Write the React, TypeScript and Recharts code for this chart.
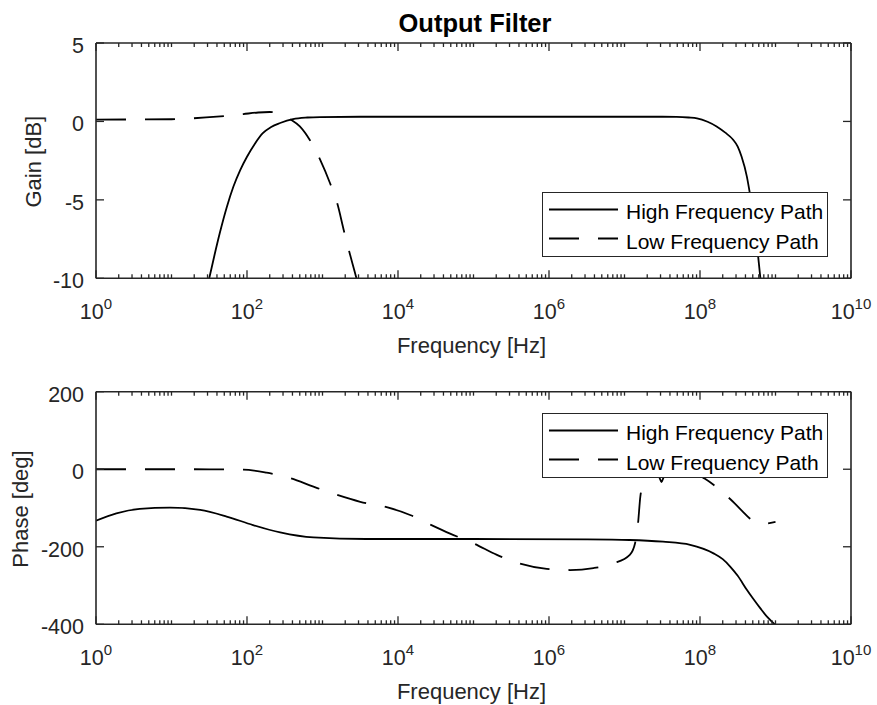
import React from 'react';
import { LineChart, Line, XAxis, YAxis, Legend } from 'recharts';

const FONT = '"Liberation Sans", Arial, Helvetica, sans-serif';
const AXIS = '#262626';
const DASH = '30 19';
const CHART_W = 877;
const LEFT_W = 96;
const RIGHT_W = 26;

// Labelled decades on the frequency axis and their exponents
const majorFreqs = [1e0, 1e2, 1e4, 1e6, 1e8, 1e10];
const majorExponents = ['0', '2', '4', '6', '8', '10'];

// Minor log ticks: 2..9 in every decade plus the unlabelled odd decades
const minorFreqs: number[] = [];
for (let k = 0; k < 10; k++) {
  for (let m = 1; m <= 9; m++) {
    if (m === 1 && k % 2 === 0) continue;
    minorFreqs.push(m * Math.pow(10, k));
  }
}
const freqTicks = [...majorFreqs, ...minorFreqs].sort((a, b) => a - b);

const gainTicks = [-10, -5, 0, 5];
const gainTickLabels = ['-10', '-5', '0', '5'];
const phaseTicks = [-400, -200, 0, 200];
const phaseTickLabels = ['-400', '-200', '0', '200'];

const seriesNames = ['High Frequency Path', 'Low Frequency Path'];

// [frequency Hz, gain dB]
const hfGain: [number, number][] = [
  [10, -20], [20, -14], [31.6, -10], [37.2, -8.5], [43.7, -7.1], [53.7, -5.5],
  [66.1, -4.15], [81.3, -3.1], [100, -2.25], [126, -1.45], [162, -0.75],
  [209, -0.35], [275, -0.1], [407, 0.15], [631, 0.25], [933, 0.28], [3162, 0.3],
  [1e5, 0.3], [1e7, 0.3], [3.16e7, 0.3], [4.9e7, 0.29], [7.08e7, 0.25],
  [9.12e7, 0.2], [1.26e8, -0.02], [1.66e8, -0.32], [2.14e8, -0.7], [2.75e8, -1.17],
  [3.16e8, -1.6], [3.55e8, -2.24], [4.17e8, -3.5], [4.57e8, -4.57], [5.25e8, -6.5],
  [5.89e8, -8.6], [6.31e8, -10], [7.94e8, -14], [1e9, -18],
];
const lfGain: [number, number][] = [
  [1, 0.12], [10, 0.14], [19.5, 0.2], [39.8, 0.3], [89.1, 0.47], [141, 0.57],
  [200, 0.6], [282, 0.45], [372, 0.15], [501, -0.32], [676, -1.17], [933, -2.45],
  [1259, -3.94], [1585, -5.3], [1905, -6.9], [2291, -8.4], [2818, -10],
  [3981, -13], [6310, -17], [1e4, -21],
];

// [frequency Hz, phase deg]
const hfPhase: [number, number][] = [
  [1, -133], [1.86, -114], [3.8, -102.5], [9.55, -99], [24, -105], [53.7, -122],
  [120, -144], [275, -163], [759, -176], [3802, -180], [1e5, -180], [3.16e6, -181],
  [1.17e7, -182.5], [3.24e7, -187], [7.41e7, -195], [1.51e8, -217], [2e8, -232],
  [2.51e8, -251], [3.16e8, -275], [4.17e8, -311], [5.01e8, -333], [6.31e8, -359],
  [7.94e8, -383], [1e9, -402],
];
const lfPhase: [number, number][] = [
  [1, 0], [10, 0], [31.6, -0.2], [89, -1], [182, -9], [372, -23], [759, -45],
  [1549, -66], [3162, -84], [7079, -98], [14454, -118], [26303, -142],
  [48978, -166], [1e5, -191], [204174, -221], [407380, -243], [933254, -257],
  [1.905e6, -260], [3.89e6, -255], [7.08e6, -243], [1.175e7, -221], [1.38e7, -191],
  [1.51e7, -140], [1.62e7, -71], [1.78e7, -36], [2.0e7, -24], [2.29e7, -15],
  [2.63e7, -12], [2.88e7, -20], [3.09e7, -33], [3.31e7, -20], [3.8e7, -10],
  [5.62e7, -6], [8.91e7, -12], [1.15e8, -24], [1.51e8, -40], [2.09e8, -63],
  [2.88e8, -88], [3.63e8, -108], [4.57e8, -127], [5.62e8, -137], [6.92e8, -141],
  [8.32e8, -139], [1e9, -136],
];

const toRows = (pts: [number, number][]) => pts.map(([f, v]) => ({ f, v }));

const majorIndex = (v: number) =>
  majorFreqs.findIndex((f) => Math.abs(Math.log10(f) - Math.log10(v)) < 1e-6);

// Bottom-axis tick: inward mark on the bottom edge, a matching mark on the
// top edge of the box, and the 10^n label for labelled decades.
function FreqTick(props: any) {
  const { x, y, payload, plotH } = props;
  const idx = majorIndex(payload.value);
  const len = idx >= 0 ? 8 : 4;
  const yTop = y - plotH;
  return (
    <g>
      <line x1={x} x2={x} y1={y} y2={y - len} stroke={AXIS} strokeWidth={1.3} />
      <line x1={x} x2={x} y1={yTop} y2={yTop + len} stroke={AXIS} strokeWidth={1.3} />
      {idx >= 0 && (
        <text x={x} y={y + 41} textAnchor="middle" fontFamily={FONT} fontSize={21.5} fill={AXIS}>
          <tspan>10</tspan>
          <tspan dy={-10} fontSize={15}>{majorExponents[idx]}</tspan>
        </text>
      )}
    </g>
  );
}

function ValueTick(props: any) {
  const { x, y, payload, right, ticks, labels } = props;
  const i = ticks.indexOf(payload.value);
  return (
    <g>
      <line x1={x} x2={right ? x - 8 : x + 8} y1={y} y2={y} stroke={AXIS} strokeWidth={1.3} />
      {!right && (
        <text x={x - 12} y={y + 10} textAnchor="end" fontFamily={FONT} fontSize={21.5} fill={AXIS}>
          {labels[i]}
        </text>
      )}
    </g>
  );
}

function LegendBox() {
  return (
    <svg width={286} height={65} style={{ display: 'block' }}>
      <rect x={0.5} y={0.5} width={285} height={64} fill="#fff" stroke={AXIS} strokeWidth={1} />
      {seriesNames.map((name, i) => (
        <g key={name}>
          <line
            x1={7}
            x2={76}
            y1={17.5 + i * 29}
            y2={17.5 + i * 29}
            stroke="#000"
            strokeWidth={1.8}
            strokeDasharray={i === 1 ? DASH : undefined}
          />
          <text x={84} y={26.5 + i * 30} fontFamily={FONT} fontSize={21} fill="#000">
            {name}
          </text>
        </g>
      ))}
    </svg>
  );
}

type PanelProps = {
  height: number;
  topSpace: number;
  bottomSpace: number;
  domain: [number, number];
  ticks: number[];
  labels: string[];
  yLabel: string;
  yLabelX: number;
  title?: string;
  legendTop: number;
  hf: [number, number][];
  lf: [number, number][];
};

function Panel(p: PanelProps) {
  const axisLine = { stroke: AXIS, strokeWidth: 1.6 };
  const plotH = p.height - p.topSpace - p.bottomSpace;
  return (
    <LineChart width={CHART_W} height={p.height} margin={{ top: 0, right: 0, bottom: 0, left: 0 }}>
      <XAxis
        xAxisId="xb"
        dataKey="f"
        type="number"
        scale="log"
        domain={[1, 1e10]}
        allowDataOverflow
        ticks={freqTicks}
        interval={0}
        orientation="bottom"
        height={p.bottomSpace}
        tickSize={0}
        tickMargin={0}
        tickLine={false}
        axisLine={axisLine}
        tick={(t: any) => <FreqTick {...t} plotH={plotH} />}
        label={{
          content: ({ viewBox }: any) => (
            <text
              x={viewBox.x + viewBox.width / 2 - 2}
              y={viewBox.y + 75}
              textAnchor="middle"
              fontFamily={FONT}
              fontSize={22}
              fill={AXIS}
            >
              Frequency [Hz]
            </text>
          ),
        }}
      />
      <XAxis
        xAxisId="xt"
        dataKey="f"
        type="number"
        scale="log"
        domain={[1, 1e10]}
        allowDataOverflow
        orientation="top"
        height={p.topSpace}
        tick={false}
        tickLine={false}
        axisLine={axisLine}
        label={
          p.title
            ? {
                content: ({ viewBox }: any) => (
                  <text
                    x={viewBox.x + viewBox.width / 2 + 1.5}
                    y={viewBox.y + 32}
                    textAnchor="middle"
                    fontFamily={FONT}
                    fontSize={25.5}
                    fontWeight="bold"
                    fill="#000"
                  >
                    {p.title}
                  </text>
                ),
              }
            : undefined
        }
      />
      <YAxis
        yAxisId="yl"
        type="number"
        domain={p.domain}
        allowDataOverflow
        ticks={p.ticks}
        interval={0}
        orientation="left"
        width={LEFT_W}
        tickSize={0}
        tickMargin={0}
        tickLine={false}
        axisLine={axisLine}
        tick={(t: any) => <ValueTick {...t} ticks={p.ticks} labels={p.labels} />}
        label={{
          content: ({ viewBox }: any) => {
            const cx = viewBox.x + p.yLabelX;
            const cy = viewBox.y + viewBox.height / 2 + 1;
            return (
              <text
                x={cx}
                y={cy}
                transform={`rotate(-90 ${cx} ${cy})`}
                textAnchor="middle"
                fontFamily={FONT}
                fontSize={22}
                fill={AXIS}
              >
                {p.yLabel}
              </text>
            );
          },
        }}
      />
      <YAxis
        yAxisId="yr"
        type="number"
        domain={p.domain}
        allowDataOverflow
        ticks={p.ticks}
        interval={0}
        orientation="right"
        width={RIGHT_W}
        tickSize={0}
        tickMargin={0}
        tickLine={false}
        axisLine={axisLine}
        tick={(t: any) => <ValueTick {...t} right ticks={p.ticks} labels={p.labels} />}
      />
      <Line
        xAxisId="xb"
        yAxisId="yl"
        data={toRows(p.hf)}
        dataKey="v"
        name={seriesNames[0]}
        type="monotone"
        stroke="#000"
        strokeWidth={1.8}
        dot={false}
        activeDot={false}
        isAnimationActive={false}
      />
      <Line
        xAxisId="xb"
        yAxisId="yl"
        data={toRows(p.lf)}
        dataKey="v"
        name={seriesNames[1]}
        type="monotone"
        stroke="#000"
        strokeWidth={1.8}
        strokeDasharray={DASH}
        dot={false}
        activeDot={false}
        isAnimationActive={false}
      />
      <Legend
        layout="vertical"
        align="center"
        verticalAlign="middle"
        content={() => <LegendBox />}
        wrapperStyle={{ left: 542, top: p.legendTop, width: 286, height: 65, lineHeight: 0 }}
      />
    </LineChart>
  );
}

export default function App() {
  return (
    <div style={{ position: 'absolute', left: 0, top: 0, width: CHART_W, height: 705, background: '#fff' }}>
      <div style={{ position: 'absolute', left: 0, top: 0 }}>
        <Panel
          height={360}
          topSpace={43}
          bottomSpace={81.7}
          domain={[-10, 5]}
          ticks={gainTicks}
          labels={gainTickLabels}
          yLabel="Gain [dB]"
          yLabelX={41}
          title="Output Filter"
          legendTop={192}
          hf={hfGain}
          lf={lfGain}
        />
      </div>
      <div style={{ position: 'absolute', left: 0, top: 360 }}>
        <Panel
          height={345}
          topSpace={31.7}
          bottomSpace={80.7}
          domain={[-400, 200]}
          ticks={phaseTicks}
          labels={phaseTickLabels}
          yLabel="Phase [deg]"
          yLabelX={27.5}
          legendTop={53.3}
          hf={hfPhase}
          lf={lfPhase}
        />
      </div>
    </div>
  );
}
